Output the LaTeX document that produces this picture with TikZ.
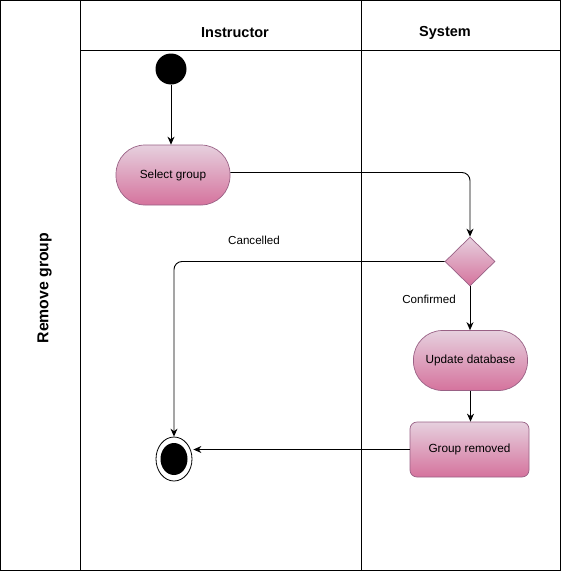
\documentclass[tikz,border=0pt]{standalone}
\usepackage{fontspec}
\setmainfont{Liberation Sans}
\usetikzlibrary{shapes.geometric,arrows.meta}
\definecolor{pinkfillA}{HTML}{E6D0DE}
\definecolor{pinkfillB}{HTML}{D5739D}
\definecolor{pinkline}{HTML}{996185}
\begin{document}
\begin{tikzpicture}[x=1pt,y=-1pt,
  lane/.style={draw=black,line width=0.9pt},
  pinkshade/.style={top color=pinkfillA,bottom color=pinkfillB,draw=pinkline,line width=0.7pt},
  action/.style={pinkshade,rectangle,rounded corners=29pt,minimum width=114pt,minimum height=60pt,inner sep=0pt,
    font=\fontsize{11.8}{14}\selectfont},
  boxstate/.style={pinkshade,rectangle,rounded corners=7pt,minimum width=119pt,minimum height=55pt,inner sep=0pt,
    font=\fontsize{11.8}{14}\selectfont},
  decision/.style={pinkshade,diamond,minimum width=50pt,minimum height=49pt,inner sep=0pt},
  header/.style={font=\fontsize{14.5}{17}\selectfont\bfseries},
  edgelabel/.style={font=\fontsize{11.6}{14}\selectfont},
  flow/.style={draw=black,line width=0.9pt,-{Stealth[length=8pt,width=7pt]}}
]
\useasboundingbox (0,0) rectangle (562,573);

% swimlane frame
\draw[lane] (0.5,0.5) rectangle (560,570);
\draw[lane] (80.5,0.5) -- (80.5,570);
\draw[lane] (361,0.5) -- (361,570);
\draw[lane] (80.5,50) -- (560,50);

\node[header] (hInstr) at (235,33) {Instructor};
\node[header] (hSys) at (445,33) {System};
\node[header,rotate=90,font=\fontsize{15.8}{18}\selectfont\bfseries] (hGroup) at (44.5,288) {Remove group};

% activity nodes
\node[circle,fill=black,minimum size=31pt,inner sep=0pt] (start) at (171,69) {};
\node[action] (select) at (173,175) {Select group};
\node[decision] (dec) at (470,261.5) {};
\node[action] (update) at (470.5,360.5) {Update database};
\node[boxstate] (removed) at (469.5,449.5) {Group removed};
\node[ellipse,draw=black,line width=0.8pt,fill=white,minimum width=36pt,minimum height=44pt,inner sep=0pt] (end) at (174,459) {};
\node[ellipse,fill=black,minimum width=27pt,minimum height=32pt,inner sep=0pt] (endDot) at (174,459) {};

% connectors
\draw[flow] (start.south) -- (start |- select.north);
\draw[flow,rounded corners=8pt] ([yshift=2.5pt]select.east) -| (dec.north);
\draw[flow,rounded corners=8pt] (dec.west) -| (end.north);
\draw[flow] (dec.south) -- (update.north -| dec.south);
\draw[flow] (update.south) -- (removed.north -| update.south);
\draw[flow] (removed.west) -- ([xshift=1pt]removed.west -| end.east);

% guard labels
\node[edgelabel] (lblCancel) at (254,240) {Cancelled};
\node[edgelabel] (lblConfirm) at (429,299) {Confirmed};
\end{tikzpicture}
\end{document}
